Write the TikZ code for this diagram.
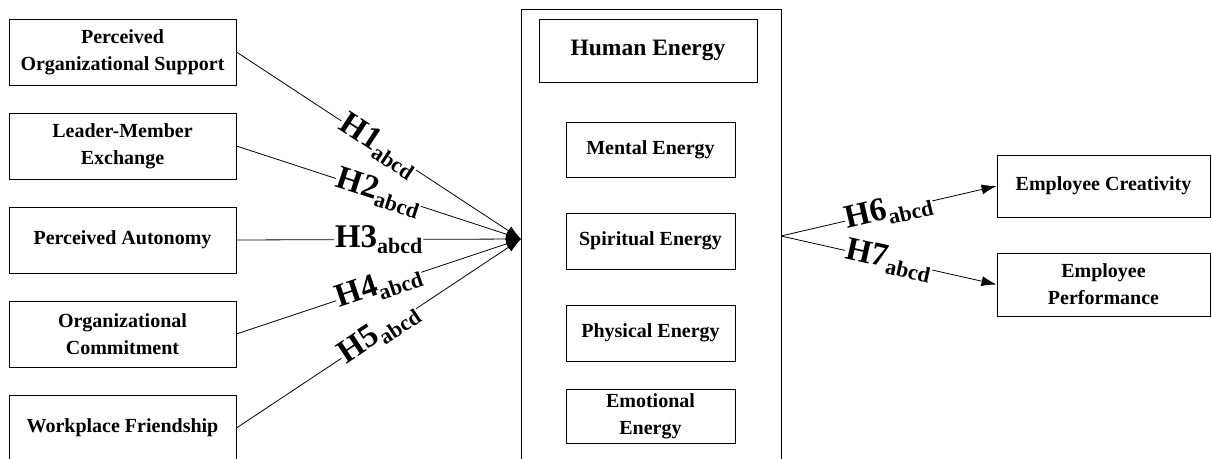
\documentclass[tikz,border=0pt]{standalone}
\usepackage{fontspec}
\setmainfont{Liberation Serif}
\usetikzlibrary{arrows.meta}
\tikzset{
  box/.style={draw,line width=0.9pt,align=center,inner sep=0pt,font=\bfseries\fontsize{20}{27}\selectfont},
  link/.style={line width=0.8pt,-{Latex[length=15pt,width=10pt]}},
  hyp/.style={sloped,pos=0.5,fill=white,inner sep=1pt,font=\bfseries\fontsize{33}{33}\selectfont}
}
\newcommand{\hlab}[1]{H#1\raisebox{-6pt}{\fontsize{22}{22}\selectfont abcd}}
\begin{document}
\begin{tikzpicture}[x=1pt,y=-1pt]
        \useasboundingbox(0,0)rectangle(1212,458);
        % antecedents
        \node[box,minimum width=227pt,minimum height=66pt](pos)at(122.5,52){Perceived\\Organizational Support};
        \node[box,minimum width=227pt,minimum height=66pt](lmx)at(122.5,146){Leader-Member\\Exchange};
        \node[box,minimum width=227pt,minimum height=66pt](pa)at(122.5,240){Perceived Autonomy};
        \node[box,minimum width=227pt,minimum height=66pt](oc)at(122.5,334){Organizational\\Commitment};
        \node[box,minimum width=227pt,minimum height=66pt](wf)at(122.5,428){Workplace Friendship};
        % human energy
        \draw[line width=0.9pt](521,470)rectangle(781,9);
        \node[box,minimum width=218pt,minimum height=63pt,font=\bfseries\fontsize{23.5}{27}\selectfont](he)at(648,50.5){Human Energy};
        \node[box,minimum width=169pt,minimum height=55pt](me)at(650.5,149.5){Mental Energy};
        \node[box,minimum width=169pt,minimum height=56pt](se)at(650.5,241){Spiritual Energy};
        \node[box,minimum width=169pt,minimum height=56pt](phe)at(650.5,333){Physical Energy};
        \node[box,minimum width=169pt,minimum height=54pt](ee)at(650.5,416){Emotional\\Energy};
        \coordinate(hub)at(521,239);
        \coordinate(split)at(781,236);
        % outcomes
        \node[box,minimum width=213pt,minimum height=62pt](ec)at(1103.5,186){Employee Creativity};
        \node[box,minimum width=213pt,minimum height=63pt](ep)at(1103.5,284.5){Employee\\Performance};
        \draw[link](pos.east)--(hub)node[hyp]{\hlab{1}};
        \draw[link](lmx.east)--(hub)node[hyp]{\hlab{2}};
        \draw[link](pa.east)--(hub)node[hyp]{\hlab{3}};
        \draw[link](oc.east)--(hub)node[hyp]{\hlab{4}};
        \draw[link](wf.east)--(hub)node[hyp]{\hlab{5}};
        \draw[link](split)--(ec.west)node[hyp]{\hlab{6}};
        \draw[link](split)--(ep.west)node[hyp]{\hlab{7}};
    \end{tikzpicture}
\end{document}
